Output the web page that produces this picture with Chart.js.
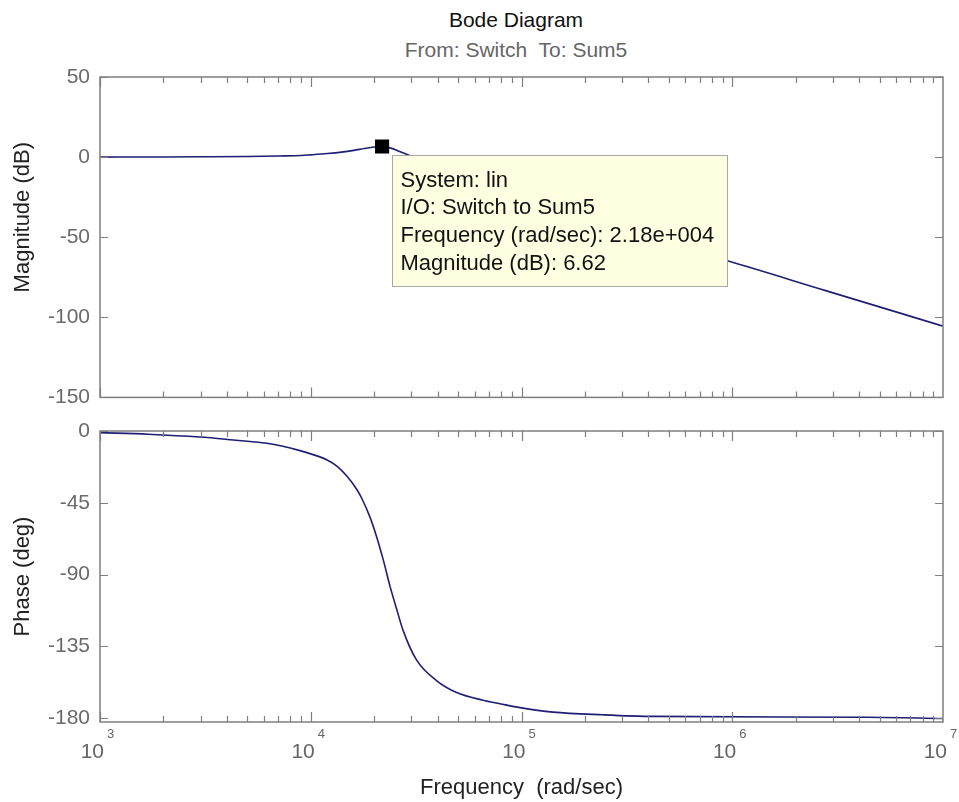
<!DOCTYPE html>
<html>
<head>
<meta charset="utf-8">
<title>Bode Diagram</title>
<script src="https://cdn.jsdelivr.net/npm/chart.js@4"></script>
<style>
  html, body { margin: 0; padding: 0; background: #fff; }
  #page { position: relative; width: 959px; height: 802px; overflow: hidden; font-family: "Liberation Sans", Arial, sans-serif; }
  canvas { position: absolute; left: 0; }
  .ttl { position: absolute; left: 0; width: 1032px; text-align: center; white-space: pre; font-size: 21px; line-height: 24px; }
</style>
</head>
<body>
<div id="page">
  <div class="ttl" style="top:8px;color:#111">Bode Diagram</div>
  <div class="ttl" style="top:38px;color:#666">From: Switch  To: Sum5</div>
  <canvas id="mag" width="959" height="420" style="top:0"></canvas>
  <canvas id="phase" width="959" height="402" style="top:400px"></canvas>
</div>
<script>
// frequency (rad/sec) vs magnitude (dB)
const magFreq = [1e3, 2e3, 3e3, 5e3, 7e3, 9e3, 1e4, 1.2e4, 1.4e4, 1.6e4, 1.8e4, 2e4, 2.18e4, 2.4e4, 2.7e4, 3e4, 3.5e4, 4e4, 5e4, 7e4, 1e5, 2e5, 5e5, 9.4e5, 2.8e6, 1e7];
const magDb   = [0, 0.1, 0.2, 0.4, 0.7, 1.0, 1.4, 2.2, 3.1, 4.2, 5.4, 6.3, 6.62, 5.6, 3.0, 0.6, -3.5, -7, -12.5, -19.5, -26, -38.5, -54.5, -64.6, -83.5, -105.5];

// frequency (rad/sec) vs phase (deg)
const phaseFreq = [1e3, 1.69e3, 2.98e3, 4.28e3, 5.15e3, 6.19e3, 7.38e3, 8.89e3, 1.07e4, 1.19e4, 1.33e4, 1.49e4, 1.66e4, 1.75e4, 1.91e4, 2.05e4, 2.21e4, 2.38e4, 2.56e4, 2.75e4, 3.18e4, 3.95e4, 4.92e4, 6.56e4, 7.9e4, 9.84e4, 1.41e5, 2.44e5, 4.21e5, 4.36e6, 1e7];
const phaseDeg  = [-1, -2, -3.8, -5.6, -6.6, -7.7, -9.6, -12.3, -15.6, -18, -22, -28.5, -37, -42.5, -54, -66, -81, -97.6, -112, -125.5, -143.7, -156.5, -164, -168.8, -171, -173.5, -176.3, -178, -179, -179.5, -180.3];

// data cursor
const markerFreq = [2.18e4];
const markerDb = [6.62];
const tipLines = ['System: lin', 'I/O: Switch to Sum5', 'Frequency (rad/sec): 2.18e+004', 'Magnitude (dB): 6.62'];

const magTicks = [50, 0, -50, -100, -150];
const phaseTicks = [0, -45, -90, -135, -180];
const decades = [1e3, 1e4, 1e5, 1e6, 1e7];

const FONT = '"Liberation Sans", Arial, sans-serif';
const LINE = '#1e1e74';

// matlab style box with inward ticks, y label, decade labels and the datatip
const matlabAxes = {
  id: 'matlabAxes',
  afterDraw(chart, args, opts) {
    const { ctx, chartArea: a } = chart;
    const xs = chart.scales.x, ys = chart.scales.y;
    ctx.save();
    ctx.strokeStyle = '#7f7f7f';
    ctx.lineWidth = 1.5;
    ctx.strokeRect(a.left, a.top, a.right - a.left, a.bottom - a.top);

    ctx.lineWidth = 1.2;
    ctx.beginPath();
    for (let d = 1e3; d < 1e7; d *= 10) {
      for (let k = 1; k < 10; k++) {
        const px = Math.round(xs.getPixelForValue(d * k)) + 0.5;
        const len = k === 1 ? 10 : 6;
        ctx.moveTo(px, a.bottom); ctx.lineTo(px, a.bottom - len);
        ctx.moveTo(px, a.top); ctx.lineTo(px, a.top + len);
      }
    }
    ys.ticks.forEach(t => {
      const py = Math.round(ys.getPixelForValue(t.value)) + 0.5;
      ctx.moveTo(a.left, py); ctx.lineTo(a.left + 8, py);
      ctx.moveTo(a.right, py); ctx.lineTo(a.right - 8, py);
    });
    ctx.stroke();

    // y axis label
    ctx.fillStyle = '#222';
    ctx.font = '22px ' + FONT;
    ctx.textAlign = 'center';
    ctx.textBaseline = 'middle';
    ctx.translate(23, (a.top + a.bottom) / 2 + opts.yTitleShift);
    ctx.rotate(-Math.PI / 2);
    ctx.fillText(opts.yTitle, 0, 0);
    ctx.setTransform(1, 0, 0, 1, 0, 0);

    if (opts.decadeLabels) {
      ctx.fillStyle = '#666';
      decades.forEach(d => {
        const px = xs.getPixelForValue(d);
        ctx.font = '21px ' + FONT;
        ctx.textAlign = 'right';
        ctx.fillText('10', px + 4, a.bottom + 30);
        ctx.font = '13px ' + FONT;
        ctx.textAlign = 'left';
        ctx.fillText(String(Math.round(Math.log10(d))), px + 7, a.bottom + 12);
      });
    }

    if (opts.tip) {
      const px = xs.getPixelForValue(markerFreq[0]);
      const py = ys.getPixelForValue(markerDb[0]);
      const bx = Math.round(px + 10) + 0.5, by = Math.round(py + 9) + 0.5;
      ctx.fillStyle = '#ffffe1';
      ctx.fillRect(bx, by, 335, 131);
      ctx.strokeStyle = '#a8a8a8';
      ctx.lineWidth = 1;
      ctx.strokeRect(bx, by, 335, 131);
      ctx.fillStyle = '#111';
      ctx.font = '22px ' + FONT;
      ctx.textAlign = 'left';
      tipLines.forEach((s, i) => ctx.fillText(s, bx + 8, by + 25 + i * 27.8));
    }
    ctx.restore();
  }
};

function xAxis(h, title) {
  return {
    type: 'logarithmic', min: 1e3, max: 1e7,
    ticks: { display: false },
    grid: { display: false, drawTicks: false },
    border: { display: false },
    title: title ? { display: true, text: title, color: '#222', font: { size: 22, family: FONT }, padding: { top: 0, bottom: 1 } } : { display: false },
    afterFit: s => { s.height = h; }
  };
}

function yAxis(min, max, ticks) {
  return {
    min: min, max: max,
    afterBuildTicks: s => { s.ticks = ticks.map(v => ({ value: v })); },
    ticks: { color: '#6a6a6a', padding: 10, font: { size: 21, family: FONT } },
    grid: { display: false, drawTicks: false },
    border: { display: false },
    afterFit: s => { s.width = 100; }
  };
}

new Chart(document.getElementById('mag'), {
  type: 'line',
  data: {
    datasets: [{
      data: markerFreq.map((f, i) => ({ x: f, y: markerDb[i] })),
      showLine: false,
      pointStyle: 'rect',
      pointRadius: 10,
      pointBackgroundColor: '#000',
      pointBorderWidth: 0
    }, {
      data: magFreq.map((f, i) => ({ x: f, y: magDb[i] })),
      borderColor: LINE,
      borderWidth: 1.6,
      pointRadius: 0,
      cubicInterpolationMode: 'monotone'
    }]
  },
  options: {
    responsive: false,
    animation: false,
    devicePixelRatio: 1,
    layout: { padding: { left: 0, right: 16, top: 77, bottom: 0 } },
    plugins: {
      legend: { display: false },
      tooltip: { enabled: false },
      matlabAxes: { tip: true, yTitle: 'Magnitude (dB)', yTitleShift: -20 }
    },
    scales: {
      x: xAxis(15, null),
      y: yAxis(-150, 50, magTicks)
    }
  },
  plugins: [matlabAxes]
});

new Chart(document.getElementById('phase'), {
  type: 'line',
  data: {
    datasets: [{
      data: phaseFreq.map((f, i) => ({ x: f, y: phaseDeg[i] })),
      borderColor: LINE,
      borderWidth: 1.6,
      pointRadius: 0,
      cubicInterpolationMode: 'monotone'
    }]
  },
  options: {
    responsive: false,
    animation: false,
    devicePixelRatio: 1,
    layout: { padding: { left: 0, right: 16, top: 31, bottom: 0 } },
    plugins: {
      legend: { display: false },
      tooltip: { enabled: false },
      matlabAxes: { decadeLabels: true, yTitle: 'Phase (deg)', yTitleShift: 0 }
    },
    scales: {
      x: xAxis(80, 'Frequency  (rad/sec)'),
      y: yAxis(-182.5, 0, phaseTicks)
    }
  },
  plugins: [matlabAxes]
});
</script>
</body>
</html>
